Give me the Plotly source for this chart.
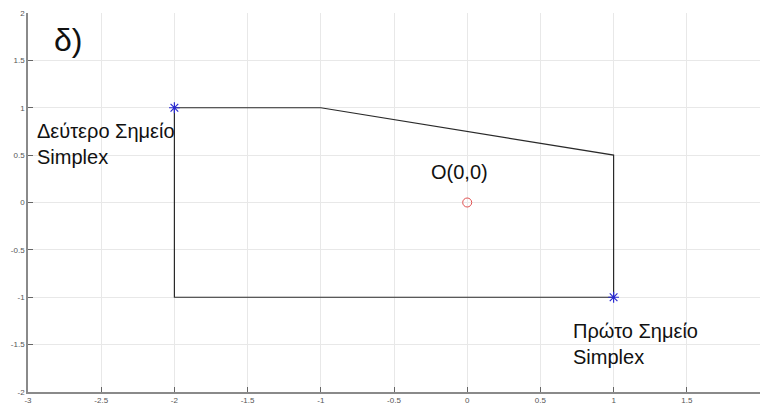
import plotly.graph_objects as go

# Data
poly_x = [-2, -1, 1, 1, -2, -2]
poly_y = [1, 1, 0.5, -1, -1, 1]
star_x = [-2, 1]
star_y = [1, -1]
origin_x = [0]
origin_y = [0]
x_ticks = [-3, -2.5, -2, -1.5, -1, -0.5, 0, 0.5, 1, 1.5, 2]
x_tick_labels = ["-3", "-2.5", "-2", "-1.5", "-1", "-0.5", "0", "0.5", "1", "1.5", "2"]
y_ticks = [-2, -1.5, -1, -0.5, 0, 0.5, 1, 1.5, 2]
y_tick_labels = ["-2", "-1.5", "-1", "-0.5", "0", "0.5", "1", "1.5", "2"]

fig = go.Figure()
fig.add_trace(go.Scatter(x=poly_x, y=poly_y, mode="lines",
                         line=dict(color="#2a2a2a", width=1.2), showlegend=False))
fig.add_trace(go.Scatter(x=star_x, y=star_y, mode="markers",
                         marker=dict(symbol="asterisk-open", size=9, color="#2a2ad0",
                                     line=dict(color="#2a2ad0", width=1.2)),
                         showlegend=False))
fig.add_trace(go.Scatter(x=origin_x, y=origin_y, mode="markers",
                         marker=dict(symbol="circle-open", size=9, color="#e05050",
                                     line=dict(color="#e05050", width=1)),
                         showlegend=False))

font_main = "Liberation Sans, Arial, sans-serif"
fig.add_annotation(x=-2.73, y=1.72, text="δ)", showarrow=False,
                   font=dict(size=32, color="#111", family=font_main))
fig.add_annotation(x=-2.95, y=0.62, text="Δεύτερο Σημείο<br>Simplex", showarrow=False,
                   xanchor="left", yanchor="middle", align="left",
                   font=dict(size=20, color="#111", family=font_main))
fig.add_annotation(x=-0.053, y=0.32, text="O(0,0)", showarrow=False,
                   font=dict(size=20, color="#111", family=font_main))
fig.add_annotation(x=0.706, y=-1.49, text="Πρώτο Σημείο<br>Simplex", showarrow=False,
                   xanchor="left", yanchor="middle", align="left",
                   font=dict(size=20, color="#111", family=font_main))

axis_common = dict(showgrid=True, gridcolor="#e8e8e8", gridwidth=1,
                   zeroline=False, showline=True, linecolor="#8a8a8a", linewidth=1.5,
                   ticks="inside", ticklen=5, tickcolor="#666",
                   tickfont=dict(size=8, color="#555", family=font_main))

fig.update_xaxes(range=[-3, 2], tickvals=x_ticks, ticktext=x_tick_labels, **axis_common)
fig.update_yaxes(range=[-2, 2], tickvals=y_ticks, ticktext=y_tick_labels, **axis_common)

fig.update_layout(width=760, height=408, margin=dict(l=28, r=0, t=13, b=16),
                  plot_bgcolor="white", paper_bgcolor="white")

fig.write_html("out.html")
